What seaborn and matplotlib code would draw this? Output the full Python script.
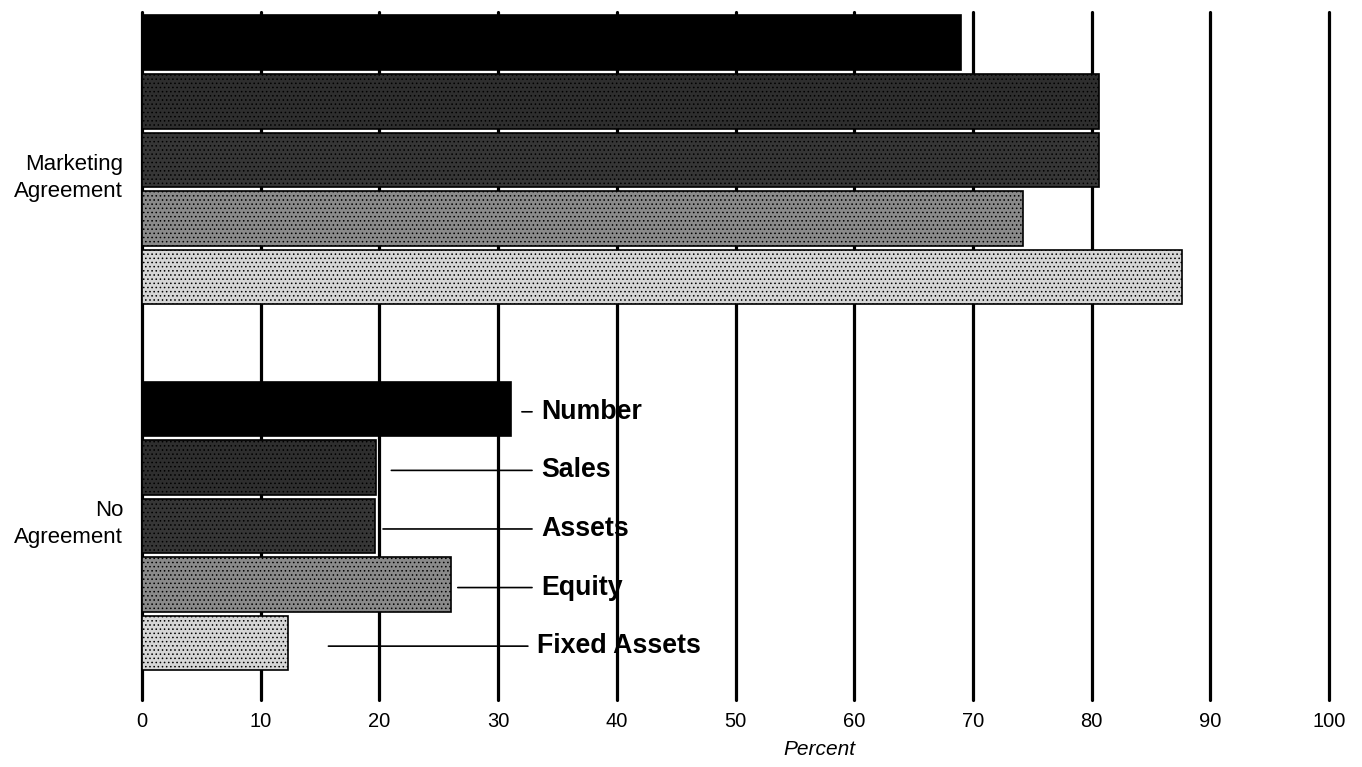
import numpy as np
import pandas as pd
import matplotlib
matplotlib.use("Agg")
import matplotlib.pyplot as plt
import seaborn as sns

# ---------------------------------------------------------
# data (percent)
# ---------------------------------------------------------
groups = ["Marketing\nAgreement", "No\nAgreement"]
measures = ["Number", "Sales", "Assets", "Equity", "Fixed Assets"]
marketing = [69.0, 80.6, 80.6, 74.2, 87.6]
no_agreement = [31.1, 19.7, 19.6, 26.0, 12.3]
xticks = list(range(0, 101, 10))

palette = ["#000000", "#2e2e2e", "#363636", "#8a8a8a", "#d6d6d6"]
hatches = [None, "....", "....", "....", "...."]

df = pd.DataFrame({
    "group": np.repeat(groups, len(measures)),
    "measure": measures * len(groups),
    "percent": marketing + no_agreement,
})

sns.set_style("white")
plt.rcParams["font.family"] = ["Liberation Sans", "DejaVu Sans"]
plt.rcParams["hatch.linewidth"] = 0.6
for key in ("text.color", "axes.labelcolor", "xtick.color", "ytick.color"):
    plt.rcParams[key] = "black"

fig = plt.figure(figsize=(13.62, 7.67), dpi=100)
ax = fig.add_axes([0.1043, 0.0874, 0.8715, 0.8970])

sns.barplot(data=df, y="group", x="percent", hue="measure", hue_order=measures,
            order=groups, palette=palette, orient="h", width=0.8, gap=0.07,
            edgecolor="black", linewidth=1.2, legend=False, ax=ax)

# stipple texture on the grey bars
for cont, h in zip(ax.containers, hatches):
    if h is None:
        continue
    for p in cont.patches:
        p.set_hatch(h)

ax.set_xlim(0, 100)
ax.set_ylim(1.475, -0.404)
ax.set_xticks(xticks)
ax.set_xticklabels([str(t) for t in xticks], fontsize=14.5)
ax.tick_params(axis="x", length=0, pad=9)

# group labels drawn by hand (the scan sets them slightly off-centre)
ax.set_yticks([])
ax.set_ylabel("")
label_y = [0.049, 0.995]
for name, y in zip(groups, label_y):
    ax.text(-1.6, y, name, ha="right", va="center", fontsize=16,
            linespacing=1.36)

ax.set_axisbelow(True)
ax.xaxis.grid(True, color="black", linewidth=2.3)
for line in ax.get_xgridlines():
    line.set_clip_on(False)
for s in ax.spines.values():
    s.set_visible(False)

ax.set_xlabel("Percent", fontsize=15, style="italic")
ax.xaxis.set_label_coords(0.571, -0.058)

# call-out labels next to the "No Agreement" bars
offsets = [-0.32, -0.16, 0.0, 0.16, 0.32]
leader_start = [32.0, 21.0, 20.3, 26.6, 15.7]
text_x = [33.6, 33.6, 33.6, 33.6, 33.25]
for name, off, x0, tx in zip(measures, offsets, leader_start, text_x):
    y = 1 + off + 0.008
    ax.annotate(name, xy=(x0, y), xytext=(tx, y), fontsize=19.3,
                fontweight="bold", va="center", ha="left",
                arrowprops=dict(arrowstyle="-", color="black", lw=1.2,
                                shrinkA=4, shrinkB=0))

fig.savefig("out.png", dpi=100)
